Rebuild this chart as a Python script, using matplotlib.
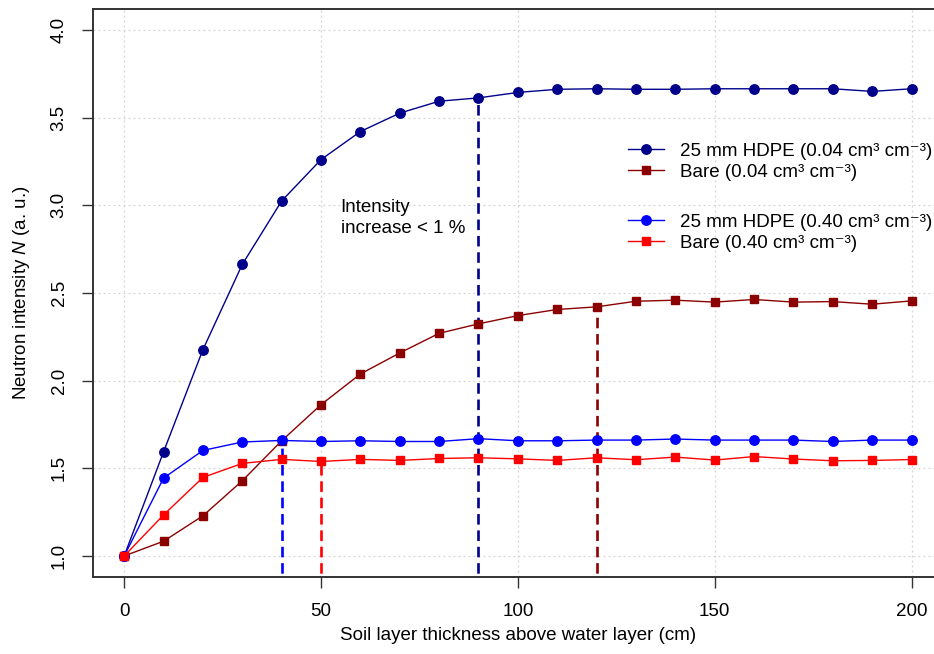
import numpy as np
import matplotlib
matplotlib.use('Agg')
import matplotlib.pyplot as plt

plt.rcParams['font.family'] = ['Liberation Sans', 'DejaVu Sans']
plt.rcParams['mathtext.fontset'] = 'custom'
plt.rcParams['mathtext.rm'] = 'Liberation Sans'
plt.rcParams['mathtext.it'] = 'Liberation Sans:italic'
plt.rcParams['font.size'] = 13.5

# data: soil layer thickness (cm) and neutron intensity
thickness = np.arange(0, 201, 10)
hdpe_dry = [1.00, 1.594, 2.177, 2.663, 3.025, 3.261, 3.421, 3.526, 3.594, 3.613, 3.644,
            3.662, 3.665, 3.662, 3.662, 3.665, 3.665, 3.665, 3.665, 3.650, 3.665]
bare_dry = [1.00, 1.084, 1.229, 1.429, 1.657, 1.863, 2.038, 2.158, 2.270, 2.324, 2.371,
            2.406, 2.421, 2.453, 2.459, 2.448, 2.463, 2.448, 2.451, 2.436, 2.455]
hdpe_wet = [1.00, 1.444, 1.602, 1.650, 1.659, 1.653, 1.657, 1.653, 1.653, 1.669, 1.657,
            1.657, 1.661, 1.661, 1.667, 1.661, 1.661, 1.661, 1.653, 1.661, 1.661]
bare_wet = [1.00, 1.234, 1.448, 1.528, 1.551, 1.539, 1.551, 1.545, 1.556, 1.560, 1.554,
            1.545, 1.560, 1.549, 1.564, 1.547, 1.567, 1.553, 1.543, 1.545, 1.550]

# thickness where the intensity increase drops below 1 %
sat_hdpe_dry = 90
sat_bare_dry = 120
sat_hdpe_wet = 40
sat_bare_wet = 50

c_hdpe_dry = '#00008B'
c_bare_dry = '#8B0000'
c_hdpe_wet = '#0000FF'
c_bare_wet = '#FF0000'

fig = plt.figure(figsize=(9.34, 6.54), dpi=100)
ax = fig.add_axes([92.7 / 934, 77 / 654, 850.3 / 934, 568 / 654])

ax.set_xlim(-8, 208)
ax.set_ylim(0.88, 4.12)
ax.set_xticks([0, 50, 100, 150, 200])
ax.set_yticks(np.arange(1.0, 4.01, 0.5))
ax.set_yticklabels(['%.1f' % v for v in np.arange(1.0, 4.01, 0.5)])
ax.grid(True, color='#D3D3D3', linestyle=(0, (1.5, 2.5)), linewidth=0.9)
ax.set_axisbelow(True)

# vertical markers
def sat_line(x, series, color):
    y = series[list(thickness).index(x)]
    ax.vlines(x, 0, y, colors=color, linestyles=(0, (4, 2.2)), linewidth=1.9, zorder=2)

sat_line(sat_hdpe_wet, hdpe_wet, c_hdpe_wet)
sat_line(sat_bare_wet, bare_wet, c_bare_wet)
sat_line(sat_hdpe_dry, hdpe_dry, c_hdpe_dry)
sat_line(sat_bare_dry, bare_dry, c_bare_dry)

l1, = ax.plot(thickness, hdpe_dry, '-o', color=c_hdpe_dry, lw=1.0, ms=6.8, zorder=3)
l2, = ax.plot(thickness, bare_dry, '-s', color=c_bare_dry, lw=1.0, ms=6.2, zorder=3)
l3, = ax.plot(thickness, hdpe_wet, '-o', color=c_hdpe_wet, lw=1.0, ms=6.8, zorder=3)
l4, = ax.plot(thickness, bare_wet, '-s', color=c_bare_wet, lw=1.0, ms=6.2, zorder=3)

ax.text(55.0, 3.034, 'Intensity\nincrease < 1 %', ha='left', va='top', linespacing=1.3)

leg_kw = dict(frameon=False, loc='center left', borderpad=0, borderaxespad=0,
              handlelength=1.9, handletextpad=0.85, labelspacing=0.22)
leg1 = ax.legend([l1, l2], ['25 mm HDPE (0.04 cm³ cm⁻³)',
                            'Bare (0.04 cm³ cm⁻³)'],
                 bbox_to_anchor=(0.630, 0.731), **leg_kw)
ax.add_artist(leg1)
ax.legend([l3, l4], ['25 mm HDPE (0.40 cm³ cm⁻³)',
                     'Bare (0.40 cm³ cm⁻³)'],
          bbox_to_anchor=(0.630, 0.606), **leg_kw)

for side in ['top', 'right', 'bottom', 'left']:
    ax.spines[side].set_color('#333333')
    ax.spines[side].set_linewidth(1.4)
ax.tick_params(length=8, width=1.0, color='#333333', pad=11)
ax.tick_params(axis='y', labelrotation=90, pad=10)
for lab in ax.get_yticklabels():
    lab.set_va('center')

ax.set_xlabel('Soil layer thickness above water layer (cm)')
ax.xaxis.set_label_coords(0.5, -0.088)
ax.set_ylabel('Neutron intensity $N$ (a. u.)')
ax.yaxis.set_label_coords(-0.0714, 0.5)

fig.savefig('out.png', dpi=100)
